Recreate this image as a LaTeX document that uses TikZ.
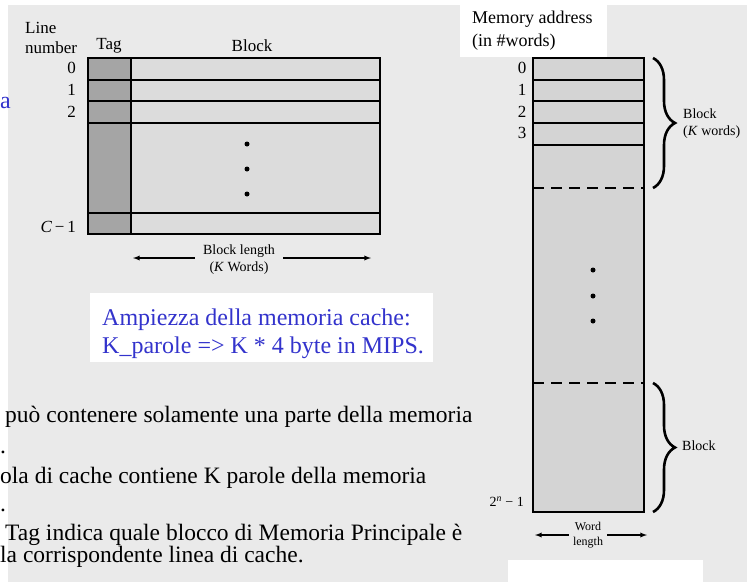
\documentclass[tikz,border=0pt]{standalone}
\usepackage{fontspec}
\setmainfont{Liberation Serif}
\usetikzlibrary{decorations.pathreplacing}
\definecolor{pagegray}{RGB}{234,234,234}
\definecolor{tagfill}{RGB}{165,165,165}
\definecolor{blockfill}{RGB}{220,220,220}
\definecolor{memfill}{RGB}{212,212,212}
\definecolor{slideblue}{RGB}{51,51,204}
\tikzset{
  lbl/.style={inner sep=0pt, font=\fontsize{17}{20}\selectfont},
  small/.style={inner sep=0pt, font=\fontsize{14}{17}\selectfont, align=center},
  slide/.style={inner sep=0pt, anchor=base west, font=\fontsize{24}{28}\selectfont},
  bodytext/.style={slide, font=\fontsize{23.5}{28}\selectfont},
  wlen/.style={->, >=latex, line width=1.3pt},
  bigbrace/.style={decorate, decoration={brace, amplitude=22pt}, line width=2.6pt}
}

\begin{document}
\begin{tikzpicture}[x=1pt, y=-1pt]
                        \useasboundingbox (0,0) rectangle (747,582);
                        % Page:
                        \fill[white] (0,0) rectangle (747,582);
                        \fill[pagegray] (8,5) rectangle (747,582);
                        \fill[white] (460,0) rectangle (607,57);
                        \fill[white] (90,293) rectangle (433,362);
                        \fill[white] (508,560) rectangle (703,582);

                        % Cache:
                        \fill[blockfill] (131,58) rectangle (380,234);
                        \fill[tagfill] (88,58) rectangle (131,234);
                        \draw[line width=1.3pt] (88,58) rectangle (380,234);
                        \draw[line width=1.3pt] (131,58) -- (131,234);
                        \foreach \y in {80,101,123,213}
                            \draw[line width=1.3pt] (88,\y) -- (380,\y);
                        \foreach \y in {144,169,194}
                            \fill (247,\y) circle (2.5);

                        \node[lbl, align=left, anchor=west] (linenum) at (25,38) {Line\\number};
                        \node[lbl] (tag) at (109,46) {Tag};
                        \node[lbl] (block) at (252,46) {Block};
                        \node[lbl, anchor=east] (row0) at (76,68) {0};
                        \node[lbl, anchor=east] (row1) at (76,90) {1};
                        \node[lbl, anchor=east] (row2) at (76,112) {2};
                        \node[lbl, anchor=east] (rowC) at (76,227) {\itshape C\,\upshape−\,1};

                        \node[small] (blocklen) at (239,260) {Block length\\(\textit{K} Words)};
                        \coordinate (blenL) at (133,258);
                        \coordinate (blenR) at (371,258);
                        \draw[wlen] (blocklen.west) ++(-8,-2) -- (blenL);
                        \draw[wlen] (blocklen.east) ++(8,-2) -- (blenR);

                        % Main memory:
                        \fill[memfill] (533,58) rectangle (644,512);
                        \draw[line width=1.3pt] (533,58) rectangle (644,512);
                        \foreach \y in {80,101,123,145}
                            \draw[line width=1.3pt] (533,\y) -- (644,\y);
                        \draw[line width=1.3pt, dash pattern=on 11pt off 7pt] (533,188) -- (644,188);
                        \draw[line width=1.3pt, dash pattern=on 11pt off 7pt] (533,383) -- (644,383);
                        \foreach \y in {270,296,321}
                            \fill (593,\y) circle (2.5);

                        \node[lbl, align=left, anchor=west, font=\fontsize{18}{23}\selectfont] (memaddr) at (472,31) {Memory address\\(in \#words)};
                        \node[lbl, anchor=center] (addr0) at (522,68) {0};
                        \node[lbl, anchor=center] (addr1) at (522,90) {1};
                        \node[lbl, anchor=center] (addr2) at (522,112) {2};
                        \node[lbl, anchor=center] (addr3) at (522,133) {3};
                        \node[lbl, anchor=east, font=\fontsize{14}{17}\selectfont] (addrN) at (524,502) {2\textsuperscript{\itshape n} − 1};

                        \coordinate (brA) at (653,58);
                        \coordinate (brB) at (653,188);
                        \coordinate (brC) at (653,383);
                        \coordinate (brD) at (653,512);
                        \draw[bigbrace] (brA) -- (brB);
                        \draw[bigbrace] (brC) -- (brD);
                        \node[small, align=left, anchor=west] (kblock) at (683,124) {Block\\(\textit{K} words)};
                        \node[small, anchor=west] (nblock) at (682,446) {Block};

                        \node[small, font=\fontsize{12}{15}\selectfont] (wordlen) at (588,535) {Word\\length};
                        \coordinate (wlenL) at (535,535);
                        \coordinate (wlenR) at (647,535);
                        \draw[wlen] (wordlen.west) ++(-4,0) -- (wlenL);
                        \draw[wlen] (wordlen.east) ++(4,0) -- (wlenR);

                        % Slide text:
                        \node[slide, text=slideblue] (ampiezza) at (102,325) {Ampiezza della memoria cache:};
                        \node[slide, text=slideblue] (kparole) at (102,353) {K\_parole => K * 4 byte in MIPS.};
                        \node[slide, text=slideblue] (cuta) at (0,108) {a};
                        \node[bodytext] (line1) at (5,422) {può contenere solamente una parte della memoria};
                        \node[bodytext] (dot1) at (0,453) {.};
                        \node[bodytext] (line2) at (0,483) {ola di cache contiene K parole della memoria};
                        \node[bodytext] (dot2) at (0,511) {.};
                        \node[bodytext] (line3) at (5,540) {Tag indica quale blocco di Memoria Principale è};
                        \node[bodytext] (line4) at (0,562) {la corrispondente linea di cache.};
                    \end{tikzpicture}
\end{document}
